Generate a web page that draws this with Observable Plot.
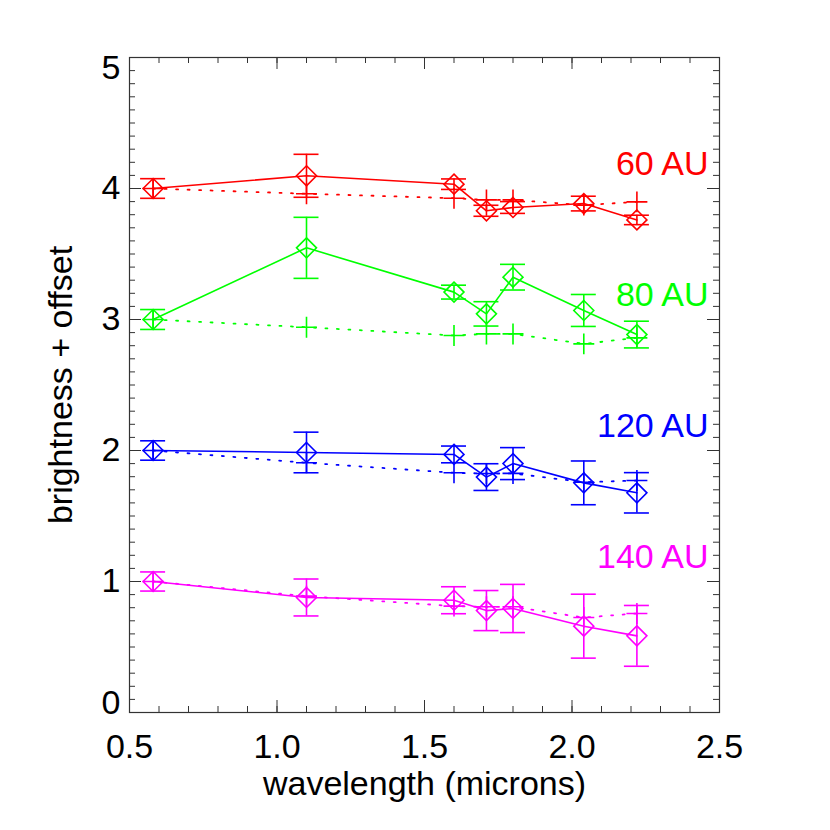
<!DOCTYPE html>
<html><head><meta charset="utf-8">
<script src="https://cdn.jsdelivr.net/npm/d3@7"></script>
<script src="https://cdn.jsdelivr.net/npm/@observablehq/plot@0.6"></script>
<style>body{margin:0;background:#fff;} svg{display:block;}</style>
</head><body><div id="chart"></div>
<script>
const wavelengths = [0.58, 1.10, 1.60, 1.71, 1.80, 2.04, 2.22];
const series = ["60 AU", "80 AU", "120 AU", "140 AU"];
const colors = ["#ff0000", "#00ff00", "#0000ff", "#ff00ff"];

const diamond60  = [4.00, 4.097, 4.033, 3.83, 3.855, 3.885, 3.76];
const err60      = [0.075, 0.164, 0.040, 0.042, 0.045, 0.056, 0.036];
const plus60     = [4.00, 3.96, 3.926, 3.913, 3.913, 3.873, 3.898];

const diamond80  = [3.00, 3.547, 3.209, 3.043, 3.323, 3.069, 2.885];
const err80      = [0.076, 0.233, 0.053, 0.093, 0.098, 0.122, 0.102];
const plus80     = [3.00, 2.941, 2.878, 2.89, 2.89, 2.814, 2.86];

const diamond120 = [2.00, 1.985, 1.97, 1.797, 1.90, 1.753, 1.677];
const err120     = [0.074, 0.155, 0.064, 0.102, 0.122, 0.167, 0.154];
const plus120    = [2.00, 1.906, 1.83, 1.824, 1.825, 1.758, 1.771];

const diamond140 = [1.00, 0.878, 0.857, 0.778, 0.794, 0.659, 0.585];
const err140     = [0.073, 0.141, 0.103, 0.153, 0.184, 0.244, 0.232];
const plus140    = [1.00, 0.888, 0.812, 0.807, 0.807, 0.725, 0.756];

const xTickLabels = [0.5, 1.0, 1.5, 2.0, 2.5];
const yTickLabels = [0, 1, 2, 3, 4, 5];

const diamonds = [diamond60, diamond80, diamond120, diamond140];
const errors = [err60, err80, err120, err140];
const pluses = [plus60, plus80, plus120, plus140];

const rows = [];
series.forEach((s, i) => wavelengths.forEach((w, j) => {
  rows.push({series: s, x: w, d: diamonds[i][j], e: errors[i][j], p: pluses[i][j]});
}));
const labels = series.map((s, i) => ({series: s, base: diamonds[i][0]}));

const W = 830, H = 830, mL = 129, mR = 111, mT = 57, mB = 118;
const iw = W - mL - mR, ih = H - mT - mB;
const xMinor = d3.range(5, 26).map(v => v / 10);
const yMinor = d3.range(0, 51).map(v => v / 10);
const ink = "#333";
const fs = 34;

const plot = Plot.plot({
  width: W, height: H,
  marginLeft: mL, marginRight: mR, marginTop: mT, marginBottom: mB,
  style: {fontFamily: "'Liberation Sans', Arial, Helvetica, sans-serif", background: "white", color: "black"},
  x: {domain: [0.5, 2.5]},
  y: {domain: [0, 5]},
  color: {type: "ordinal", domain: series, range: colors},
  marks: [
    // minor ticks (inside, all four sides)
    Plot.tickY(yMinor, {insetRight: iw - 6, stroke: ink}),
    Plot.tickY(yMinor, {insetLeft: iw - 6, stroke: ink}),
    Plot.tickX(xMinor, {insetTop: ih - 6, stroke: ink}),
    Plot.tickX(xMinor, {insetBottom: ih - 6, stroke: ink}),
    // major ticks
    Plot.tickY(yTickLabels, {insetRight: iw - 12, stroke: ink}),
    Plot.tickY(yTickLabels, {insetLeft: iw - 12, stroke: ink}),
    Plot.tickX(xTickLabels, {insetTop: ih - 12, stroke: ink}),
    Plot.tickX(xTickLabels, {insetBottom: ih - 12, stroke: ink}),
    Plot.frame({stroke: ink, strokeWidth: 1.2}),
    // axis labels
    Plot.axisX(xTickLabels, {anchor: "bottom", tickSize: 0, tickPadding: 21, fontSize: fs, fill: "black",
      tickFormat: d => d.toFixed(1), label: "wavelength (microns)", labelAnchor: "center", labelOffset: 82, labelArrow: "none"}),
    Plot.axisY(yTickLabels.slice(1, 5), {anchor: "left", tickSize: 0, tickPadding: 9, fontSize: fs, fill: "black",
      tickFormat: d => String(d),
      label: "brightness + offset", labelAnchor: "center", labelOffset: 82, labelArrow: "none"}),
    Plot.axisY(yTickLabels.slice(0, 1), {anchor: "left", tickSize: 0, tickPadding: 9, fontSize: fs, fill: "black",
      tickFormat: d => String(d), dy: -9, label: null}),
    Plot.axisY(yTickLabels.slice(5), {anchor: "left", tickSize: 0, tickPadding: 9, fontSize: fs, fill: "black",
      tickFormat: d => String(d), dy: 11, label: null}),
    // dotted model lines
    Plot.line(rows, {x: "x", y: "p", z: "series", stroke: "series", strokeWidth: 1.8, strokeDasharray: "2,9.5"}),
    // solid data lines
    Plot.line(rows, {x: "x", y: "d", z: "series", stroke: "series", strokeWidth: 1.6}),
    // error bars
    Plot.ruleX(rows, {x: "x", y1: d => d.d - d.e, y2: d => d.d + d.e, stroke: "series", strokeWidth: 1.6}),
    Plot.ruleY(rows, {y: d => d.d - d.e, x1: "x", x2: "x", insetLeft: -12.5, insetRight: -12.5, stroke: "series", strokeWidth: 1.6}),
    Plot.ruleY(rows, {y: d => d.d + d.e, x1: "x", x2: "x", insetLeft: -12.5, insetRight: -12.5, stroke: "series", strokeWidth: 1.6}),
    // symbols
    Plot.dot(rows, {x: "x", y: "p", symbol: "plus", r: 6.8, stroke: "series", strokeWidth: 1.6}),
    Plot.dot(rows, {x: "x", y: "d", symbol: "diamond2", r: 9, stroke: "series", fill: "none", strokeWidth: 1.6}),
    // series labels
    Plot.text(labels, {frameAnchor: "right", y: d => d.base + 0.185, dx: -11, text: "series", fill: "series",
      textAnchor: "end", fontSize: fs})
  ]
});
document.getElementById("chart").appendChild(plot);
</script>
</body></html>
